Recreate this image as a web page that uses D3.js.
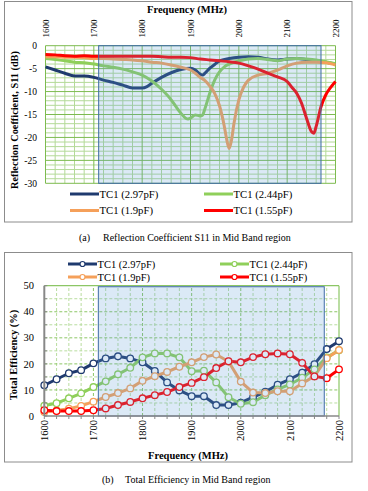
<!DOCTYPE html>
<html><head><meta charset="utf-8">
<script src="https://cdn.jsdelivr.net/npm/d3@7"></script>
<style>
html,body{margin:0;padding:0;background:#fff;}
</style></head>
<body><svg id="c" width="368" height="491"></svg>
<script>
// ---------- DATA ----------
const seriesNames = ["TC1 (2.97pF)", "TC1 (2.44pF)", "TC1 (1.9pF)", "TC1 (1.55pF)"];
const seriesColors = ["#1f3a6e", "#8fcf5a", "#f5a05a", "#ff0000"];

// (a) Reflection coefficient S11 (dB)
const s11Freq297 = [1600,1620,1640,1660,1680,1700,1720,1740,1760,1780,1800,1810,1820,1840,1860,1880,1900,1910,1920,1925,1930,1940,1950,1960,1980,2000,2020,2040,2060,2080,2100,2120,2140,2160,2180,2200];
const s11Val297  = [-4.6,-5.3,-6.0,-6.6,-6.6,-6.9,-7.5,-8.0,-8.6,-9.2,-9.2,-8.9,-8.2,-6.9,-5.9,-5.2,-4.9,-5.3,-6.2,-6.4,-6.0,-4.9,-4.1,-3.3,-2.8,-2.5,-2.4,-2.5,-2.9,-3.1,-2.9,-2.8,-3.0,-3.3,-3.6,-4.0];
const s11Freq244 = [1600,1620,1640,1660,1680,1700,1720,1740,1760,1780,1800,1820,1840,1860,1870,1880,1890,1895,1900,1910,1920,1925,1930,1940,1950,1960,1970,1980,2000,2020,2040,2060,2080,2100,2120,2140,2160,2180,2200];
const s11Val244  = [-2.8,-3.0,-3.3,-3.6,-3.7,-4.0,-4.4,-4.7,-5.1,-5.7,-6.4,-7.7,-9.5,-11.8,-13.3,-14.7,-15.8,-16.0,-15.8,-15.1,-15.3,-15.1,-13.7,-10.3,-7.5,-5.7,-4.6,-4.0,-3.3,-2.9,-2.8,-3.0,-3.3,-2.9,-2.8,-2.9,-3.1,-3.5,-3.9];
const s11Freq19  = [1600,1620,1640,1660,1680,1700,1720,1740,1760,1780,1800,1820,1840,1860,1880,1900,1910,1920,1930,1940,1950,1960,1970,1975,1980,1985,1990,2000,2010,2020,2040,2060,2080,2100,2120,2140,2160,2180,2200];
const s11Val19   = [-2.4,-2.4,-2.5,-2.5,-2.6,-2.8,-2.8,-2.9,-3.0,-3.1,-3.3,-3.6,-3.8,-4.2,-4.7,-5.3,-6.0,-6.9,-7.6,-8.8,-10.4,-13.1,-17.6,-20.5,-22.4,-20.5,-16.9,-11.8,-9.0,-7.5,-6.4,-6.0,-5.3,-4.4,-3.8,-3.6,-3.6,-3.7,-4.2];
const s11Freq155 = [1600,1620,1640,1660,1680,1700,1720,1740,1760,1780,1800,1820,1840,1860,1880,1900,1920,1940,1960,1980,2000,2020,2040,2060,2080,2100,2110,2120,2130,2140,2150,2155,2160,2170,2180,2190,2200];
const s11Val155  = [-1.9,-2.0,-2.2,-2.3,-2.2,-2.3,-2.3,-2.3,-2.3,-2.3,-2.3,-2.3,-2.4,-2.5,-2.5,-2.6,-2.9,-3.1,-3.3,-3.5,-3.8,-4.4,-5.1,-6.0,-6.8,-7.8,-9.1,-10.4,-12.6,-15.8,-18.7,-19.1,-17.6,-13.3,-10.7,-9.1,-7.8];

// (b) Total efficiency (%)
const effFreq = [1600,1625,1650,1675,1700,1725,1750,1775,1800,1825,1850,1875,1900,1925,1950,1975,2000,2025,2050,2075,2100,2125,2150,2175,2200];
const eff297 = [11.8,14.1,16.4,17.6,20.2,22.1,22.9,22.1,20.6,17.3,12.9,9.8,7.6,7.6,4.2,4.2,5.1,7.2,9.3,12.0,14.1,16.6,19.9,25.7,28.7];
const eff244 = [4.0,4.9,6.8,8.7,11.1,13.3,16.0,18.5,22.5,24.0,24.0,22.5,17.2,17.4,12.9,7.2,4.7,5.3,8.0,10.2,12.1,14.7,17.9,22.5,25.2];
const eff19  = [1.5,2.1,2.8,3.9,5.5,7.3,8.8,10.6,13.5,15.3,16.9,18.9,20.6,22.6,23.6,20.9,13.2,9.0,8.8,9.5,9.5,12.5,15.3,22.2,25.3];
const eff155 = [2.2,1.9,1.9,1.9,2.2,2.9,4.2,5.4,6.8,8.0,9.2,11.1,12.7,14.9,18.4,21.0,20.6,22.6,23.7,24.0,23.7,20.4,15.2,14.5,17.9];

const xTicks = [1600,1700,1800,1900,2000,2100,2200];
const s11Ticks = [0,-5,-10,-15,-20,-25,-30];
const effTicks = [0,10,20,30,40,50];
const bandRange = [1710, 2170];

// ---------- DRAW ----------
const svg = d3.select("#c");

// ===== Chart (a) =====
svg.append("rect").attr("x",4.5).attr("y",1.5).attr("width",347.5).attr("height",220.5)
  .attr("fill","none").attr("stroke","#8c8c8c").attr("stroke-width",1);

const xa = d3.scaleLinear().domain([1600,2200]).range([45.5,335.5]);
const ya = d3.scaleLinear().domain([0,-30]).range([45.7,183.3]);
const ga = svg.append("g");

d3.range(1600,2201,20).forEach(f=>{ if(f%100) ga.append("line").attr("x1",xa(f)).attr("x2",xa(f)).attr("y1",ya(0)).attr("y2",ya(-30)).attr("stroke","#b4da98").attr("stroke-width",1);});
d3.range(0,-31,-1).forEach(v=>{ if(v%5) ga.append("line").attr("y1",ya(v)).attr("y2",ya(v)).attr("x1",xa(1600)).attr("x2",xa(2200)).attr("stroke","#b4da98").attr("stroke-width",1);});
xTicks.forEach(f=>ga.append("line").attr("x1",xa(f)).attr("x2",xa(f)).attr("y1",ya(0)).attr("y2",ya(-30)).attr("stroke","#7dbb4f").attr("stroke-width",1));
s11Ticks.forEach(v=>ga.append("line").attr("y1",ya(v)).attr("y2",ya(v)).attr("x1",xa(1600)).attr("x2",xa(2200)).attr("stroke","#7dbb4f").attr("stroke-width",1));

const s11Sets = [[s11Freq297,s11Val297],[s11Freq244,s11Val244],[s11Freq19,s11Val19],[s11Freq155,s11Val155]];
const lineA = d3.line().x(d=>xa(d[0])).y(d=>ya(d[1])).curve(d3.curveMonotoneX);
s11Sets.forEach((s,i)=>{
  const pts = s[0].map((f,j)=>[f,s[1][j]]);
  ga.append("path").attr("d",lineA(pts)).attr("fill","none").attr("stroke",seriesColors[i]).attr("stroke-width",3).attr("stroke-linejoin","round");
});
ga.append("rect").attr("x",xa(bandRange[0])).attr("y",ya(0)).attr("width",xa(bandRange[1])-xa(bandRange[0])).attr("height",ya(-30)-ya(0))
  .attr("fill","#5b9bd5").attr("fill-opacity",0.22).attr("stroke","#3e6aa6").attr("stroke-width",1);

ga.append("text").attr("x",187).attr("y",12.5).attr("text-anchor","middle").attr("font-weight","bold").attr("font-size",10.5).text("Frequency (MHz)");
xTicks.forEach(f=>ga.append("text").attr("transform",`translate(${xa(f)},37.5) rotate(-90)`).attr("dy","0.35em").attr("font-size",9).attr("text-anchor","start").text(f));
s11Ticks.forEach(v=>ga.append("text").attr("x",37).attr("y",ya(v)).attr("dy","0.35em").attr("text-anchor","end").attr("font-size",9.5).text(v===0?"0":"-"+Math.abs(v)));
ga.append("text").attr("transform","translate(14.5,120) rotate(-90)").attr("dy","0.35em").attr("text-anchor","middle").attr("font-weight","bold").attr("font-size",10.3).text("Reflection Coefficient, S11 (dB)");

const legA = [[70,194],[204,194],[70,210.5],[204,210.5]];
legA.forEach((p,i)=>{
  ga.append("line").attr("x1",p[0]).attr("x2",p[0]+29).attr("y1",p[1]).attr("y2",p[1]).attr("stroke",seriesColors[i]).attr("stroke-width",3);
  ga.append("text").attr("x",p[0]+29.5).attr("y",p[1]).attr("dy","0.35em").attr("font-size",10.7).text(seriesNames[i]);
});
svg.append("text").attr("x",79).attr("y",240.5).attr("font-size",10).text("(a)");
svg.append("text").attr("x",103).attr("y",240.5).attr("font-size",10).text("Reflection Coefficient S11 in Mid Band region");

// ===== Chart (b) =====
svg.append("rect").attr("x",4.5).attr("y",252.5).attr("width",347.5).attr("height",209.5)
  .attr("fill","none").attr("stroke","#8c8c8c").attr("stroke-width",1);

const xb = d3.scaleLinear().domain([1600,2200]).range([44.3,339]);
const yb = d3.scaleLinear().domain([0,50]).range([416,285.7]);
const gb = svg.append("g");

d3.range(1625,2200,25).forEach(f=>gb.append("line").attr("x1",xb(f)).attr("x2",xb(f)).attr("y1",yb(0)).attr("y2",yb(50))
  .attr("stroke", f%100? "#b9dd9f":"#8cc665").attr("stroke-width",1).attr("stroke-dasharray","3,2"));
d3.range(5,50,5).forEach(v=>gb.append("line").attr("y1",yb(v)).attr("y2",yb(v)).attr("x1",xb(1600)).attr("x2",xb(2200))
  .attr("stroke", v%10? "#b9dd9f":"#8cc665").attr("stroke-width",1).attr("stroke-dasharray","3,2"));
gb.append("line").attr("x1",xb(1600)).attr("x2",xb(2200)).attr("y1",yb(50)).attr("y2",yb(50)).attr("stroke","#8cc665").attr("stroke-width",1.2);
gb.append("line").attr("x1",xb(2200)).attr("x2",xb(2200)).attr("y1",yb(50)).attr("y2",yb(0)).attr("stroke","#8cc665").attr("stroke-width",1.2);

const effSets = [eff297, eff244, eff19, eff155];
const lineB = d3.line().x((d,j)=>xb(effFreq[j])).y(d=>yb(d));
effSets.forEach((s,i)=>{
  gb.append("path").attr("d",lineB(s)).attr("fill","none").attr("stroke",seriesColors[i]).attr("stroke-width",3).attr("stroke-linejoin","round");
});
effSets.forEach((s,i)=>{
  gb.selectAll(null).data(s).enter().append("circle")
    .attr("cx",(d,j)=>xb(effFreq[j])).attr("cy",d=>yb(d)).attr("r",3.3)
    .attr("fill","#fff").attr("stroke",seriesColors[i]).attr("stroke-width",1.3);
});
gb.append("rect").attr("x",xb(bandRange[0])).attr("y",yb(49.6)).attr("width",xb(bandRange[1])-xb(bandRange[0])).attr("height",yb(0)-yb(49.6))
  .attr("fill","#5b9bd5").attr("fill-opacity",0.22).attr("stroke","#3e6aa6").attr("stroke-width",1);

gb.append("line").attr("x1",xb(1600)).attr("x2",xb(2200)).attr("y1",yb(0)).attr("y2",yb(0)).attr("stroke","#888").attr("stroke-width",1.5);
d3.range(1600,2201,25).forEach(f=>gb.append("line").attr("x1",xb(f)).attr("x2",xb(f)).attr("y1",yb(0)).attr("y2",yb(0)+3).attr("stroke","#888").attr("stroke-width",1));
gb.append("line").attr("x1",xb(1600)).attr("x2",xb(1600)).attr("y1",yb(0)).attr("y2",yb(50)).attr("stroke","#888").attr("stroke-width",2);
d3.range(0,51,5).forEach(v=>gb.append("line").attr("x1",xb(1600)).attr("x2",xb(1600)+3).attr("y1",yb(v)).attr("y2",yb(v)).attr("stroke","#888").attr("stroke-width",1));

xTicks.forEach(f=>gb.append("text").attr("transform",`translate(${xb(f)},420) rotate(-90)`).attr("dy","0.35em").attr("font-size",10.5).attr("text-anchor","end").text(f));
effTicks.forEach(v=>gb.append("text").attr("x",34).attr("y",yb(v)).attr("dy","0.35em").attr("text-anchor","end").attr("font-size",10.5).text(v));
gb.append("text").attr("x",188).attr("y",458.5).attr("text-anchor","middle").attr("font-weight","bold").attr("font-size",10.5).text("Frequency (MHz)");
gb.append("text").attr("transform","translate(13.5,355) rotate(-90)").attr("dy","0.35em").attr("text-anchor","middle").attr("font-weight","bold").attr("font-size",10.5).text("Total Efficiency (%)");

const legB = [[68,264],[220,264],[68,277],[220,277]];
legB.forEach((p,i)=>{
  gb.append("line").attr("x1",p[0]).attr("x2",p[0]+29).attr("y1",p[1]).attr("y2",p[1]).attr("stroke",seriesColors[i]).attr("stroke-width",3);
  gb.append("circle").attr("cx",p[0]+14.5).attr("cy",p[1]).attr("r",2.5).attr("fill","#fff").attr("stroke",seriesColors[i]).attr("stroke-width",1.2);
  gb.append("text").attr("x",p[0]+29.5).attr("y",p[1]).attr("dy","0.35em").attr("font-size",10.5).text(seriesNames[i]);
});
svg.append("text").attr("x",102).attr("y",483).attr("font-size",10).text("(b)");
svg.append("text").attr("x",125).attr("y",483).attr("font-size",10).text("Total Efficiency in Mid Band region");

svg.selectAll("text").attr("font-family","'Liberation Serif'").attr("fill","#000");
</script></body></html>
